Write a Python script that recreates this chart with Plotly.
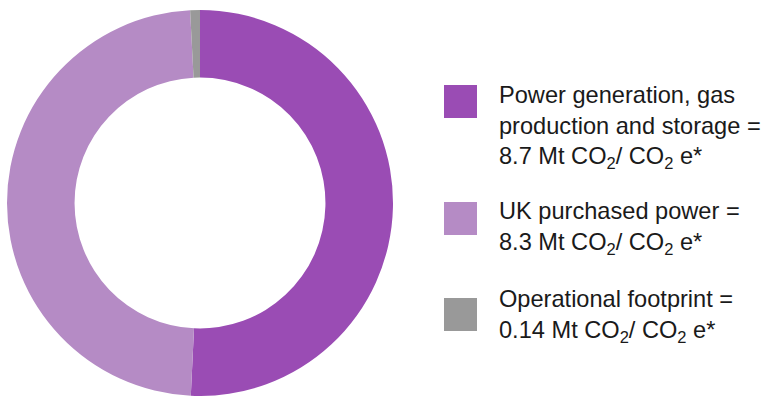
import plotly.graph_objects as go

# Emission sources (Mt CO2 / CO2e)
labels = ["Power generation, gas production and storage", "UK purchased power", "Operational footprint"]
values = [8.7, 8.3, 0.14]
value_text = ["8.7", "8.3", "0.14"]
colors = ["#9a4cb4", "#b58bc5", "#999999"]
legend_heads = ["Power generation, gas<br>production and storage =",
                "UK purchased power =",
                "Operational footprint ="]

W, H = 763, 396

fig = go.Figure(go.Pie(
    labels=labels,
    values=values,
    marker=dict(colors=colors, line=dict(width=0)),
    hole=0.65,
    sort=False,
    direction="clockwise",
    rotation=0,
    textinfo="none",
    hoverinfo="label+value",
    showlegend=False,
    domain=dict(x=[7 / W, 393 / W], y=[0, 1 - 10 / H]),
))

# Legend: coloured square + multi-line text block per source
box_tops = [85, 202, 298]
text_mids = [127, 228, 316]
for i in range(len(labels)):
    y0 = box_tops[i]
    fig.add_shape(type="rect", xref="paper", yref="paper",
                  x0=444 / W, x1=477 / W, y0=1 - (y0 + 33) / H, y1=1 - y0 / H,
                  fillcolor=colors[i], line=dict(width=0))
    txt = f"{legend_heads[i]}<br>{value_text[i]} Mt CO<sub>2</sub>/ CO<sub>2</sub> e*"
    fig.add_annotation(xref="paper", yref="paper", x=497 / W, y=1 - text_mids[i] / H,
                       xanchor="left", yanchor="middle", align="left", showarrow=False,
                       text=txt, font=dict(family="Liberation Sans", size=23.6, color="#1a1a1a"))

fig.update_layout(
    width=W, height=H,
    margin=dict(l=0, r=0, t=0, b=0),
    paper_bgcolor="white", plot_bgcolor="white",
)

fig.write_html("out.html")
